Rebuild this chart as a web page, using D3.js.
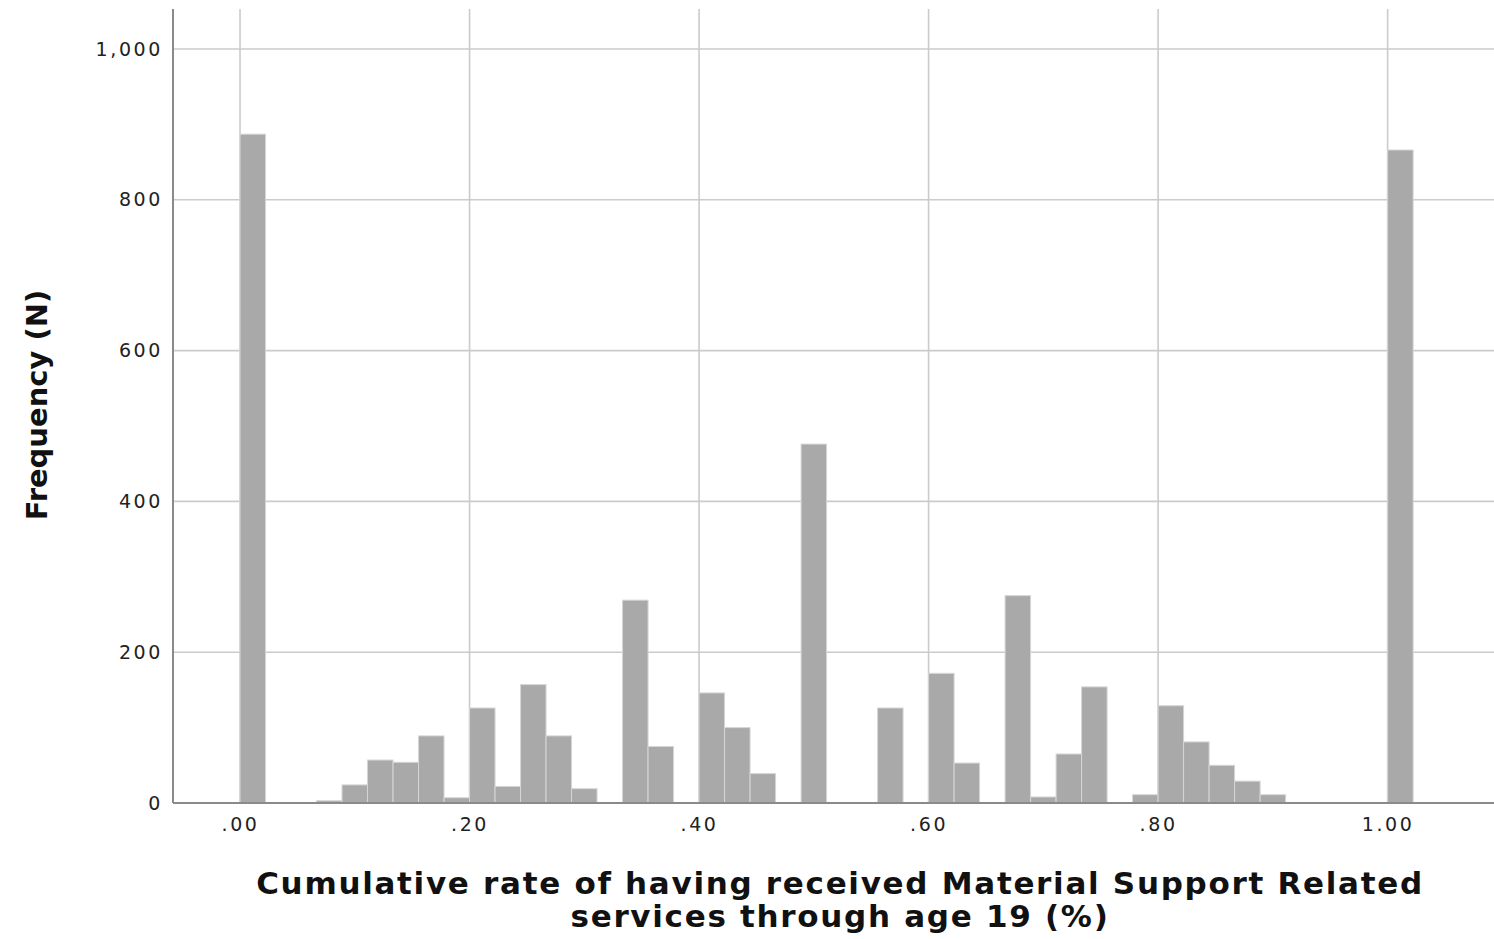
<!DOCTYPE html>
<html>
<head>
<meta charset="utf-8">
<script src="https://cdn.jsdelivr.net/npm/d3@7"></script>
<style>
  body { margin: 0; background: #fff; }
  svg { display: block; }
</style>
</head>
<body>
<div id="chart"></div>
<script>
// Histogram bins: bin index (width 1/45) and frequency
const binWidth = 1 / 45;
const binIndex = [0, 3, 4, 5, 6, 7, 8, 9, 10, 11, 12, 13, 15, 16, 18, 19, 20, 22, 25, 27, 28, 30, 31, 32, 33, 35, 36, 37, 38, 39, 40, 45];
const counts   = [887, 3, 24, 57, 54, 89, 7, 126, 22, 157, 89, 19, 269, 75, 146, 100, 39, 476, 126, 172, 53, 275, 8, 65, 154, 11, 129, 81, 50, 29, 11, 866];

const xTicks = [0, 0.2, 0.4, 0.6, 0.8, 1.0];
const yTicks = [0, 200, 400, 600, 800, 1000];

const data = binIndex.map((k, i) => ({ x0: k * binWidth, x1: (k + 1) * binWidth, n: counts[i] }));

const W = 1494, H = 939;
const plot = { left: 173, right: 1494, top: 9, bottom: 803 };

const svg = d3.select("#chart").append("svg")
    .attr("width", W)
    .attr("height", H);

// Scales
const x = d3.scaleLinear()
    .domain([-0.0584, 1.0927])
    .range([plot.left, plot.right]);

const y = d3.scaleLinear()
    .domain([0, 1053])
    .range([plot.bottom, plot.top]);

// Grid lines
svg.append("g")
    .selectAll("line")
    .data(yTicks.filter(d => d > 0))
    .enter()
    .append("line")
    .attr("x1", plot.left)
    .attr("x2", plot.right)
    .attr("y1", d => y(d))
    .attr("y2", d => y(d))
    .attr("stroke", "#cbcbcb")
    .attr("stroke-width", 1.6);

svg.append("g")
    .selectAll("line")
    .data(xTicks)
    .enter()
    .append("line")
    .attr("x1", d => x(d))
    .attr("x2", d => x(d))
    .attr("y1", plot.top)
    .attr("y2", plot.bottom)
    .attr("stroke", "#cbcbcb")
    .attr("stroke-width", 1.6);

// Bars
svg.append("g")
    .selectAll("rect")
    .data(data)
    .enter()
    .append("rect")
    .attr("x", d => x(d.x0))
    .attr("y", d => y(d.n))
    .attr("width", d => x(d.x1) - x(d.x0))
    .attr("height", d => y(0) - y(d.n))
    .attr("fill", "#a9a9a9")
    .attr("stroke", "#d6d6d6")
    .attr("stroke-width", 1);

// Axes
const fmtX = d => d3.format(".2f")(d).replace(/^0\./, ".");

const yAxis = svg.append("g")
    .attr("transform", `translate(${plot.left},0)`)
    .call(d3.axisLeft(y).tickValues(yTicks).tickFormat(d3.format(",")).tickSize(0).tickPadding(10));
yAxis.select(".domain").remove();

const xAxis = svg.append("g")
    .attr("transform", `translate(0,${plot.bottom})`)
    .call(d3.axisBottom(x).tickValues(xTicks).tickFormat(fmtX).tickSize(0).tickPadding(15));
xAxis.select(".domain").remove();

svg.selectAll(".tick text")
    .style("font-family", "'DejaVu Sans', sans-serif")
    .style("font-size", "19px")
    .style("letter-spacing", "2.6px")
    .attr("fill", "#222");

// Axis lines
svg.append("line")
    .attr("x1", plot.left).attr("x2", plot.left)
    .attr("y1", plot.top).attr("y2", plot.bottom)
    .attr("stroke", "#8a8a8a").attr("stroke-width", 2);
svg.append("line")
    .attr("x1", plot.left).attr("x2", plot.right)
    .attr("y1", plot.bottom).attr("y2", plot.bottom)
    .attr("stroke", "#8a8a8a").attr("stroke-width", 2);

// Axis titles
const title = svg.append("text")
    .attr("text-anchor", "middle")
    .style("font-family", "'DejaVu Sans', sans-serif")
    .style("font-size", "31px")
    .style("font-weight", "bold")
    .style("letter-spacing", "1.7px")
    .attr("fill", "#111");
title.append("tspan").attr("x", 840).attr("y", 894).text("Cumulative rate of having received Material Support Related");
title.append("tspan").attr("x", 840).attr("y", 927).text("services through age 19 (%)");

svg.append("text")
    .attr("text-anchor", "middle")
    .attr("transform", "translate(47,405) rotate(-90)")
    .style("font-family", "'DejaVu Sans', sans-serif")
    .style("font-size", "29px")
    .style("font-weight", "bold")
    .attr("fill", "#111")
    .text("Frequency (N)");
</script>
</body>
</html>
